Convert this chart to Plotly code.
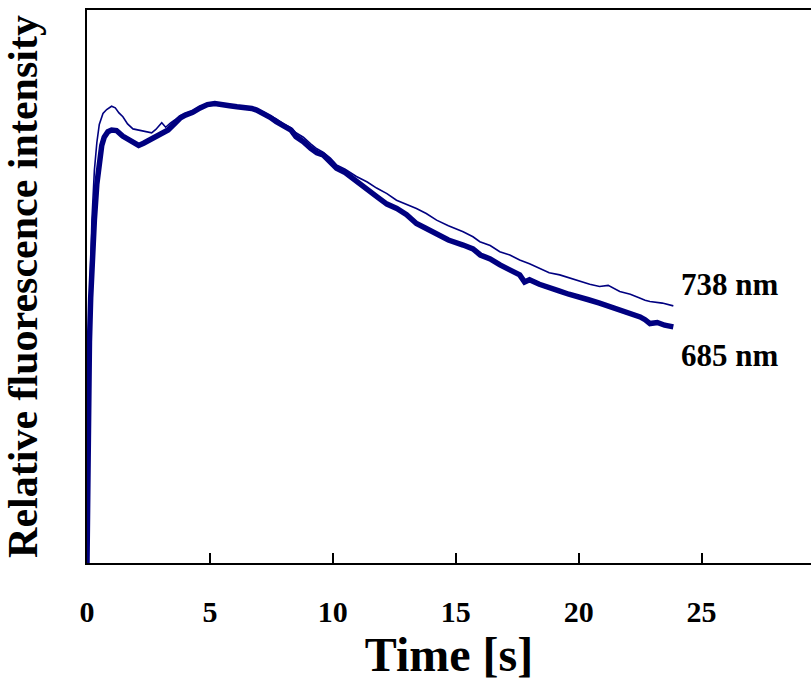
import plotly.graph_objects as go

# 685 nm (thick line)
t685 = [0, 0.02, 0.04, 0.07, 0.1, 0.15, 0.2, 0.3, 0.4, 0.5, 0.6, 0.7, 0.85, 1.0, 1.2, 1.45, 1.7, 1.9,
        2.1, 2.3, 2.45, 2.7, 3.0, 3.3, 3.6, 3.8, 4.0, 4.3, 4.6, 4.9, 5.2, 5.5, 5.8, 6.1, 6.4, 6.7,
        6.9, 7.2, 7.45, 7.7, 8.0, 8.3, 8.5, 8.8, 9.1, 9.35, 9.6, 9.9, 10.15, 10.5, 10.95, 11.4,
        11.8, 12.2, 12.6, 13.0, 13.4, 13.8, 14.2, 14.7, 15.3, 15.7, 16.0, 16.4, 16.8, 17.2, 17.6,
        17.8, 18.0, 18.4, 18.8, 19.2, 19.6, 20.0, 20.4, 20.85, 21.3, 21.7, 22.1, 22.5, 22.7, 22.9,
        23.2, 23.5, 23.85]
v685 = [0, 12, 22, 32, 40, 48, 54, 62, 68.5, 72.5, 75.5, 77.0, 78.0, 78.3, 78.2, 77.2, 76.5, 75.8,
        75.5, 75.9, 76.3, 76.7, 77.5, 78.3, 79.6, 80.5, 81.0, 81.5, 82.3, 82.9, 83.1, 82.8, 82.7,
        82.5, 82.4, 82.2, 81.9, 81.3, 80.6, 79.8, 79.0, 78.3, 77.1, 76.2, 75.0, 74.2, 73.8, 72.5,
        71.4, 70.6, 69.0, 67.5, 66.2, 64.9, 64.1, 63.0, 61.4, 60.5, 59.6, 58.4, 57.5, 56.8, 55.7,
        55.0, 53.9, 53.0, 52.1, 50.8, 51.2, 50.4, 49.7, 49.2, 48.6, 48.2, 47.6, 47.0, 46.3, 45.8,
        45.2, 44.5, 44.0, 43.3, 43.5, 43.0, 42.7]

# 738 nm (thin line)
t738 = [0, 0.02, 0.04, 0.07, 0.1, 0.15, 0.2, 0.3, 0.4, 0.5, 0.65, 0.8, 1.0, 1.15, 1.3, 1.46, 1.65,
        1.87, 2.1, 2.43, 2.63, 2.8, 3.04, 3.2, 3.4, 3.6, 3.8, 4.0, 4.3, 4.6, 4.9, 5.2, 5.5, 5.8,
        6.1, 6.4, 6.7, 6.9, 7.2, 7.45, 7.7, 8.0, 8.3, 8.5, 8.8, 9.1, 9.35, 9.6, 9.9, 10.15, 10.5,
        10.96, 11.4, 11.78, 12.2, 12.59, 13.0, 13.4, 13.8, 14.22, 14.7, 15.3, 15.7, 15.98, 16.4,
        16.79, 17.2, 17.6, 18.0, 18.41, 18.8, 19.23, 19.6, 20.04, 20.45, 20.85, 21.2, 21.67, 22.1,
        22.48, 22.7, 22.9, 23.4, 23.85]
v738 = [0, 14, 26, 37, 46, 55, 62, 71, 76, 79.3, 81.3, 82.0, 82.6, 82.3, 81.4, 80.7, 79.4, 78.5,
        78.3, 78.0, 77.8, 78.4, 79.6, 78.8, 79.6, 80.2, 80.9, 81.3, 81.8, 82.6, 83.0, 83.2, 82.9,
        82.8, 82.6, 82.5, 82.3, 82.0, 81.5, 80.9, 80.3, 79.4, 78.7, 77.8, 77.0, 75.8, 74.9, 74.3,
        73.2, 72.0, 71.2, 69.9, 68.9, 67.8, 66.8, 65.6, 64.9, 64.1, 63.2, 62.0, 61.0, 59.9, 59.0,
        58.1, 57.4, 56.3, 55.7, 54.8, 54.1, 53.3, 52.5, 52.1, 51.6, 50.9, 50.4, 50.0, 50.2, 49.1,
        48.6, 47.9, 47.5, 47.3, 47.0, 46.5]

x_ticks = [0, 5, 10, 15, 20, 25]
series_labels = ["738 nm", "685 nm"]
label_pos = [(24.1, 50.3), (24.1, 37.6)]

NAVY = "#000080"
FONT = "Liberation Serif, Times New Roman, serif"

fig = go.Figure()
fig.add_trace(go.Scatter(x=t738, y=v738, mode="lines", line=dict(color=NAVY, width=1.6),
                         name="738 nm", showlegend=False))
fig.add_trace(go.Scatter(x=t685, y=v685, mode="lines", line=dict(color=NAVY, width=5.5),
                         name="685 nm", showlegend=False))

for lab, (lx, ly) in zip(series_labels, label_pos):
    fig.add_annotation(x=lx, y=ly, text="<b>%s</b>" % lab, showarrow=False, xanchor="left",
                       yanchor="middle", font=dict(family=FONT, size=31, color="black"))

fig.update_layout(
    width=811, height=697,
    margin=dict(l=87, r=0, t=10, b=134),
    plot_bgcolor="white", paper_bgcolor="white",
    font=dict(family=FONT, color="black"),
    xaxis=dict(range=[0, 29.45], tickvals=x_ticks, ticktext=["<b>%d</b>" % v for v in x_ticks],
               ticks="inside", ticklen=10, tickwidth=1.5, tickcolor="black",
               showline=True, linecolor="black", linewidth=2, mirror=True,
               showgrid=False, zeroline=False, tickfont=dict(family=FONT, size=30),
               ticklabelstandoff=21,
               title=dict(text="<b>Time [s]</b>", font=dict(family=FONT, size=48), standoff=8)),
    yaxis=dict(range=[0, 100], showticklabels=False, ticks="", showgrid=False, zeroline=False,
               showline=True, linecolor="black", linewidth=2,
               title=dict(text="<b>Relative fluorescence intensity</b>",
                          font=dict(family=FONT, size=42), standoff=36)),
)

fig.write_html("out.html")
